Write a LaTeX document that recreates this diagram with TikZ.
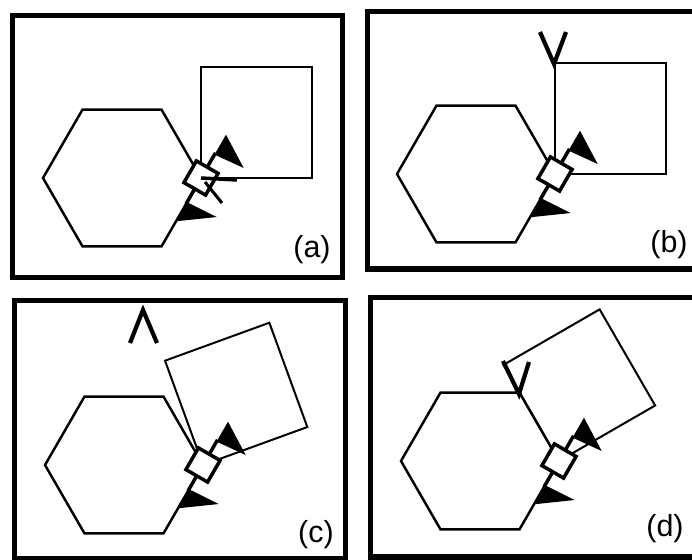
\documentclass[tikz,border=0pt]{standalone}
\usepackage{fontspec}
\setmainfont{Liberation Sans}

\tikzset{
  joint/.pic={
    \draw[line width=3pt] (12,0) -- (29,0) (-12,0) -- (-30,0);
    \filldraw[fill=white,line width=3pt] (-12.5,-12.5) rectangle (12.5,12.5);
    \fill (27,0) -- (50,0) -- (30,32) -- cycle;
    \fill (-28,0) -- (-50,0) -- (-26,33) -- cycle;
  }
}

\begin{document}
\begin{tikzpicture}[x=0.03cm,y=-0.03cm,
  framebox/.style={line width=4.6pt},
  hexline/.style={line width=2.1pt},
  sqline/.style={line width=1.7pt},
  vmark/.style={line width=3.6pt},
  tag/.style={inner sep=0pt,font=\fontsize{26}{30}\selectfont}]
  \clip (0,0) rectangle (692,560);
  % frames
  \draw[framebox] (12.5,15.5) rectangle (342.5,277.5);
  \draw[framebox] (700,11.5) -| (367.5,269) -- (700,269);
  \draw[framebox] (14.5,300.5) rectangle (345.5,559);
  \draw[framebox] (700,297.5) -| (370.5,557) -- (700,557);
  % hexagon, square and joint of each panel
  \foreach \cx/\cy/\rot/\name in {122/178/0/a,476/174/0/b,124/465/20/c,480/461/30/d}{
    \coordinate (j\name) at (\cx+79,\cy);
    \draw[hexline] (j\name) -- ++(120:79) -- ++(180:79) -- ++(240:79) -- ++(300:79) -- ++(0:79) -- cycle;
    \draw[sqline,shift={(j\name)},rotate=\rot] (0,0) rectangle (111,-111);
    \pic[rotate=60] at (j\name) {joint};
  }
  % extra strokes in (a)
  \draw[line width=3pt] (ja) -- (237,180);
  \draw[line width=2.6pt] (205,182) -- (222,203);
  % contact marks
  \draw[vmark] (540,32) -- (554,64) -- (566,32);
  \draw[vmark] (130,343) -- (143,310) -- (157,343);
  \draw[vmark] (503,361) -- (519,394) -- (529,362);
  % panel tags
  \node[tag] (tag-a) at (312,250) {(a)};
  \node[tag] (tag-b) at (669,245) {(b)};
  \node[tag] (tag-c) at (316,535) {(c)};
  \node[tag] (tag-d) at (665,529) {(d)};
\end{tikzpicture}
\end{document}
